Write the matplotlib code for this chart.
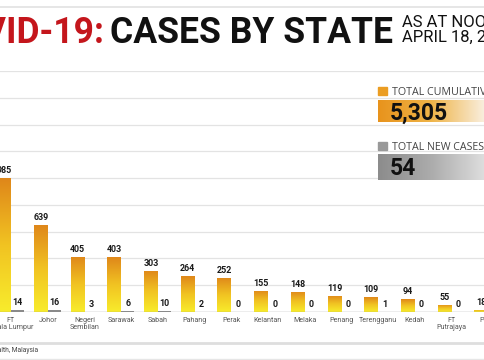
import numpy as np
import matplotlib
matplotlib.use('Agg')
import matplotlib.pyplot as plt
from matplotlib.colors import LinearSegmentedColormap
from matplotlib.patches import Rectangle
from matplotlib.lines import Line2D

# data (Selangor sits off the left edge of the crop)
states = ['FT\nKuala Lumpur', 'Johor', 'Negeri\nSembilan', 'Sarawak', 'Sabah',
          'Pahang', 'Perak', 'Kelantan', 'Melaka', 'Penang', 'Terengganu',
          'Kedah', 'FT\nPutrajaya', 'Perlis']
cumulative = [985, 639, 405, 403, 303, 264, 252, 155, 148, 119, 109, 94, 55, 18]
new_cases = [14, 16, 3, 6, 10, 2, 0, 0, 0, 0, 1, 0, 0, 0]
total_cumulative = '5,305'
total_new = '54'

W, H = 485, 360
fig = plt.figure(figsize=(4.85, 3.6), dpi=100)


def fx(px):
    return px / W


def fy(py):
    return 1 - py / H


title_font = ['Roboto', 'DejaVu Sans']
body_font = ['Roboto', 'DejaVu Sans']

ax = fig.add_axes([0, fy(312), 1, (312 - 71) / H])
x = np.arange(len(states))
ymax = 1773
bw = 0.37

orange_cmap = LinearSegmentedColormap.from_list('orange', ['#f8ec2c', '#f1c322', '#df871a'])
grad = np.linspace(0, 1, 256).reshape(-1, 1)

bars = ax.bar(x - bw / 2 - 0.005, cumulative, bw, color='none', zorder=2)
for b in bars:
    x0, y0 = b.get_x(), b.get_y()
    im = ax.imshow(grad, extent=(x0, x0 + b.get_width(), y0, y0 + b.get_height()),
                   origin='lower', aspect='auto', cmap=orange_cmap, zorder=2)
    im.set_clip_path(b)
ax.bar(x + bw / 2, new_cases, bw - 0.02, color='#8a8a8a', zorder=2)

for xi, c, n in zip(x, cumulative, new_cases):
    ax.annotate(str(c), (xi - bw / 2, c), xytext=(0, 2), textcoords='offset points',
                ha='center', va='bottom', fontsize=6.4, fontweight='bold',
                color='#1a1a1a', family=body_font, annotation_clip=False)
    ax.annotate(str(n), (xi + bw / 2, n), xytext=(0, 2), textcoords='offset points',
                ha='center', va='bottom', fontsize=6.4, fontweight='bold',
                color='#1a1a1a', family=body_font, annotation_clip=False)

for xi, s in zip(x, states):
    ax.annotate(s, (xi, 0), xytext=(0, -3.5), textcoords='offset points',
                ha='center', va='top', fontsize=5.1, color='#555555',
                linespacing=1.05, family=body_font, annotation_clip=False)

ax.set_xlim(-11 / 36.7, (W - 11) / 36.7)
ax.set_ylim(0, ymax)
ax.set_yticks(np.linspace(0, ymax, 10))
ax.grid(axis='y', color='#e3e3e3', lw=0.9)
ax.set_axisbelow(True)
ax.tick_params(length=0, labelleft=False, labelbottom=False)
for sp in ax.spines.values():
    sp.set_visible(False)
ax.axhline(0, color='#8c8c8c', lw=0.9, zorder=3)

# frame lines
fig.add_artist(Line2D([0, 1], [fy(7), fy(7)], transform=fig.transFigure, color='#e2e2e2', lw=1.2))
fig.add_artist(Line2D([0, 1], [fy(343), fy(343)], transform=fig.transFigure, color='#dedede', lw=2))
fig.add_artist(Line2D([0, 1], [fy(359), fy(359)], transform=fig.transFigure, color='#e6e6e6', lw=1))

# title
fig.text(fx(105), fy(43.3), 'COVID-19:', ha='right', va='baseline', color='#c4161c',
         fontsize=25.6, fontweight='bold', family=title_font)
fig.text(fx(110), fy(43.3), 'CASES BY STATE', ha='left', va='baseline', color='#111111',
         fontsize=25.6, fontweight='bold', family=title_font)
fig.text(fx(402), fy(27.3), 'AS AT NOON', ha='left', va='baseline', color='#111111',
         fontsize=12, fontweight='normal', family=body_font)
fig.text(fx(402), fy(42.3), 'APRIL 18, 2020', ha='left', va='baseline', color='#111111',
         fontsize=12, fontweight='normal', family=body_font)

fig.text(fx(38), fy(352.5), 'Source: Ministry of Health, Malaysia', ha='right', va='baseline',
         fontsize=4.8, color='#444444', family=body_font)

# summary boxes
hgrad = np.linspace(0, 1, 256).reshape(1, -1)
box_orange = LinearSegmentedColormap.from_list('bo', ['#e8931c', '#efb448', '#f9efdf'])
box_gray = LinearSegmentedColormap.from_list('bg', ['#8c8c8c', '#acacac', '#dedede'])

fig.add_artist(Rectangle((fx(378), fy(95)), 9 / W, 8 / H, transform=fig.transFigure,
                         color='#eb9d22'))
fig.text(fx(392), fy(95), 'TOTAL CUMULATIVE CASES', ha='left', va='baseline',
         fontsize=7.7, color='#444444', family=['Open Sans', 'DejaVu Sans'])
bax = fig.add_axes([fx(378), fy(122), (W - 378) / W, 22 / H])
bax.imshow(hgrad, aspect='auto', cmap=box_orange)
bax.axis('off')
fig.text(fx(390), fy(120), total_cumulative, ha='left', va='baseline', fontsize=16.5,
         fontweight='bold', color='#111111', family=body_font)

fig.add_artist(Rectangle((fx(378), fy(150)), 9 / W, 8 / H, transform=fig.transFigure,
                         color='#999999'))
fig.text(fx(392), fy(150), 'TOTAL NEW CASES', ha='left', va='baseline',
         fontsize=7.7, color='#444444', family=['Open Sans', 'DejaVu Sans'])
gax = fig.add_axes([fx(378), fy(180), (W - 378) / W, 26 / H])
gax.imshow(hgrad, aspect='auto', cmap=box_gray)
gax.axis('off')
fig.text(fx(390), fy(175), total_new, ha='left', va='baseline', fontsize=16.5,
         fontweight='bold', color='#111111', family=body_font)

fig.savefig('out.png', dpi=100)
